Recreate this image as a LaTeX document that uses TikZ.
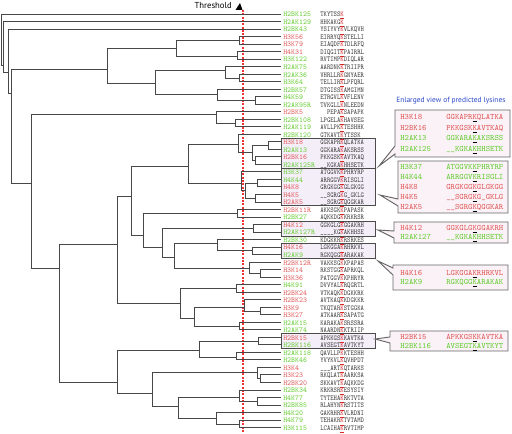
\documentclass[tikz,border=0pt]{standalone}
\usepackage{fontspec}
\usepackage{graphicx}
\newfontfamily\ptsans{PT Sans}
\definecolor{lg}{RGB}{102,204,51}
\definecolor{lr}{RGB}{226,90,90}
\definecolor{kred}{RGB}{215,40,40}
\definecolor{seqc}{RGB}{60,60,60}
\definecolor{bxfill}{RGB}{244,238,249}
\definecolor{cofill}{RGB}{250,242,247}
\definecolor{ttlc}{RGB}{40,70,200}
\definecolor{thrc}{RGB}{238,50,50}
\newcommand\sqK[2]{\scalebox{0.85}[1]{\textcolor{seqc}{#1}\textcolor{kred}{\underline{K}}\textcolor{seqc}{#2}}}
\newcommand\cK[2]{#1\makebox[0pt][l]{\textcolor{black}{\rule[-1.8pt]{0.525em}{0.7pt}}}K#2}
\tikzset{
  tree/.style={draw=black!72, line width=0.7pt},
  lab/.style={anchor=mid west, inner sep=0pt, font=\fontsize{5.6}{6}\selectfont\ttfamily},
  bx/.style={draw=black!70, fill=bxfill, line width=0.7pt},
  co/.style={draw=black!60, fill=cofill, line width=0.7pt},
  clab/.style={anchor=mid west, inner sep=0pt, font=\fontsize{6.2}{7}\selectfont\ttfamily},
  thr/.style={draw=thrc, line width=0.85pt, dash pattern=on 1.5pt off 1pt},
}
\begin{document}
\begin{tikzpicture}[x=0.75pt, y=-0.75pt]
\useasboundingbox (0,0) rectangle (512,434);
% boxes around clusters
\draw[bx] (281,138) rectangle (375,168.2);
\draw[bx] (281,168.2) rectangle (375,205.8);
\draw[bx] (281,221) rectangle (375,236);
\draw[bx] (281,243.3) rectangle (375,258.5);
\draw[bx] (281,333.5) rectangle (375,348.7);
% threshold
\draw[thr] (243,10) -- (243,432);
\node[anchor=mid east, inner sep=0pt, font=\ptsans\fontsize{6.5}{7}\selectfont] (thrlab) at (232,5.5) {Threshold};
\fill (235.5,10) -- (242.5,10) -- (240,3) -- cycle;
% leaves
\foreach \i/\nm/\cl/\pa/\pb in {
1/H2BK125/lg/TKYTSS/{},
2/H2AK129/lg/HHKAKG/{},
3/H2BK43/lg/YSIYVY/VLKQVH,
4/H3K56/lr/EIRRYQ/STELLI,
5/H3K79/lr/EIAQDF/TDLRFQ,
6/H4K31/lr/DIQGIT/PAIRRL,
7/H3K122/lg/RVTIMP/DIQLAR,
8/H2AK75/lg/AARDNK/TRIIPR,
9/H2AK36/lg/VHRLLR/GNYAER,
10/H3K64/lg/TELLIR/LPFQRL,
11/H2BK57/lg/DTGISS/AMGIMN,
12/H4K59/lg/ETRGVL/VFLENV,
13/H2AK95R/lg/TVKGLL/NLEEDN,
14/H2BK5/lr/{~~PEPA}/SAPAPK,
15/H2BK108/lg/LPGELA/HAVSEG,
16/H2AK119/lg/AVLLPK/TESHHK,
17/H2BK120/lg/GTKAVT/YTSSK,
18/H3K18/lr/GGKAPR/QLATKA,
19/H2AK13/lg/GGKARA/AKSRSS,
20/H2BK16/lr/PKKGSK/AVTKAQ,
21/H2AK125R/lg/{\_\_KGKA}/HHSETK,
22/H3K37/lg/ATGGVK/PHRYRP,
23/H4K44/lg/ARRGGV/RISGLI,
24/H4K8/lr/GRGKGG/GLGKGG,
25/H4K5/lr/{\_\_SGRG}/{G\_GKLG},
26/H2AK5/lr/{\_\_SGRG}/QGGKAR,
27/H2BK11R/lr/AKKSGK/PAPASK,
28/H2BK27/lg/AQKKDG/KRKRSR,
29/H4K12/lr/GGKGLG/GGAKRH,
30/H2AK127R/lg/{\_\_\_\_KG}/AKHHSE,
31/H2BK30/lg/KDGKKR/RSRKES,
32/H4K16/lr/LGKGGA/RHRKVL,
33/H2AK9/lg/RGKQGG/ARAKAK,
34/H2BK12R/lr/VAKKSG/KPAPAS,
35/H3K14/lr/RKSTGG/APRKQL,
36/H3K36/lr/PATGGV/KPHRYR,
37/H4K91/lg/DVVYAL/RQGRTL,
38/H2BK24/lr/VTKAQK/DGKKRK,
39/H2BK23/lr/AVTKAQ/KDGKKR,
40/H3K9/lr/TKQTAR/STGGKA,
41/H3K27/lr/ATKAAR/SAPATG,
42/H2AK15/lg/KARAKA/SRSSRA,
43/H2AK74/lg/NAARDN/KTRIIP,
44/H2BK15/lr/APKKGS/KAVTKA,
45/H2BK116/lg/AVSEGT/AVTKYT,
46/H2AK118/lg/QAVLLP/KTESHH,
47/H2BK46/lg/YVYKVL/QVHPDT,
48/H3K4/lr/{\_\_\_ART}/QTARKS,
49/H3K23/lr/RKQLAT/AARKSA,
50/H2BK20/lr/SKKAVT/AQKKDG,
51/H2BK34/lg/KRKRSR/ESYSIY,
52/H4K77/lg/TYTEHA/RKTVTA,
53/H2BK85/lg/RLAHYN/RSTITS,
54/H4K20/lg/GAKRHR/VLRDNI,
55/H4K79/lg/TEHAKR/TVTAMD,
56/H3K115/lg/LCAIHA/RVTIMP}{
  \pgfmathsetmacro\yy{14+7.52*(\i-1)}
  \coordinate (c\i) at (281,\yy);
  \node[lab, text=\cl] (t\i) at (283,\yy) {\nm};
  \node[lab] (s\i) at (320,\yy) {\sqK{\pa}{\pb}};
}
% internal nodes of the dendrogram
\foreach \n/\x/\y in {root/1/40, B/3.3/65, C/8.3/72, D/11.7/93,
 E/107/69, E1/176/48, n45/239/40, n67/237/56, E2/155/83, n8/225/70, n910/239/78,
 n11/217/94, n1213/255/100.5, F/31/183, F1/216/114, n1516/235/123,
 F2/59/268, G/117/244, G1/131/196, G1a/188/166, n17/238/144, b1/252/152,
 n1819/268/145.6, n2021/255/160.6, n22/241/183, n2326/245/190.7, n2324/257/183.2,
 n2526/255/198.3, G1b/143/235, n2728/237/213, G1b2/162/247, b3/253/228.3,
 G1bb/174/257, n31/217/243, b4/252/250.9, n34/249/268, n3536/260/273.5,
 G2/180/303, n3738/236/288, G2b/194/318, n39/244/307, n4041/260/311, n4243/239/326,
 H/117/382, H1/199/350, b5/258/341.1, n4647/236/357, H2/152/393, n48/257/372,
 n4950/260/378.7, H2b/178/406, n51/239/397, n5253/257/401.3, H2b2/216/418, n5556/239/424}
 {\coordinate (\n) at (\x,\y);}
% connectors
\foreach \p/\c in {root/c1, root/B, B/c2, B/C, C/c3, C/D, D/E, D/F,
 E/E1, E/E2, E1/n45, E1/n67, n45/c4, n45/c5, n67/c6, n67/c7,
 E2/n8, E2/n11, n8/c8, n8/n910, n910/c9, n910/c10, n11/c11, n11/n1213, n1213/c12, n1213/c13,
 F/F1, F/F2, F1/c14, F1/n1516, n1516/c15, n1516/c16,
 F2/G, F2/H, G/G1, G/G2, G1/G1a, G1/G1b, G1a/n17, G1a/n22, n17/c17, n17/b1,
 b1/n1819, b1/n2021, n1819/c18, n1819/c19, n2021/c20, n2021/c21,
 n22/c22, n22/n2326, n2326/n2324, n2326/n2526, n2324/c23, n2324/c24, n2526/c25, n2526/c26,
 G1b/n2728, G1b/G1b2, n2728/c27, n2728/c28, G1b2/b3, G1b2/G1bb, b3/c29, b3/c30,
 G1bb/n31, G1bb/n34, n31/c31, n31/b4, b4/c32, b4/c33, n34/c34, n34/n3536, n3536/c35, n3536/c36,
 G2/n3738, G2/G2b, n3738/c37, n3738/c38, G2b/n39, G2b/n4243, n39/c39, n39/n4041,
 n4041/c40, n4041/c41, n4243/c42, n4243/c43,
 H/H1, H/H2, H1/b5, H1/n4647, b5/c44, b5/c45, n4647/c46, n4647/c47,
 H2/n48, H2/H2b, n48/c48, n48/n4950, n4950/c49, n4950/c50, H2b/n51, H2b/H2b2,
 n51/c51, n51/n5253, n5253/c52, n5253/c53, H2b2/c54, H2b2/n5556, n5556/c55, n5556/c56}
 {\draw[tree] (\p) |- (\c);}
% enlarged view
\node[anchor=mid west, inner sep=0pt, font=\ptsans\fontsize{5.6}{7}\selectfont, text=ttlc] (ttl) at (396,100) {Enlarged view of predicted lysines};
\foreach \k/\xa/\ya/\xb/\yb/\tx/\ty/\ba/\bb in {
 1/395/110/510/157/379/166/146/154,
 2/398/161/508/213/380/195/199/206,
 3/394/222/508/243/378/230/231/238,
 4/393/265/508/290/378/261/268/275,
 5/390/331/508/351/375/339/337/343}{
 \coordinate (tip\k) at (\tx,\ty);
 \filldraw[co] (\xa,\ba) -- (\xa,\ya) -- (\xb,\ya) -- (\xb,\yb) -- (\xa,\yb) -- (\xa,\bb) -- (tip\k) -- cycle;
}
\foreach \yy/\nm/\cl/\pa/\pb in {
117/H3K18/lr/GGKAPR/QLATKA,
127.5/H2BK16/lr/PKKGSK/AVTKAQ,
138/H2AK13/lg/GGKARA/AKSRSS,
148.5/H2AK125/lg/{\_\_KGKA}/HHSETK,
167/H3K37/lg/ATGGVK/PHRYRP,
177/H4K44/lg/ARRGGV/RISGLI,
187/H4K8/lr/GRGKGG/GLGKGG,
197/H4K5/lr/{\_\_SGRG}/{G\_GKLG},
207/H2AK5/lr/{\_\_SGRG}/QGGKAR,
227.5/H4K12/lr/GGKGLG/GGAKRH,
237/H2AK127/lg/{\_\_KGKA}/HHSETK,
273/H4K16/lr/LGKGGA/RHRKVL,
282/H2AK9/lg/RGKQGG/ARAKAK,
337/H2BK15/lr/APKKGS/KAVTKA,
345.5/H2BK116/lg/AVSEGT/AVTKYT}{
 \node[clab, text=\cl] at (400,\yy) {\nm};
 \node[clab, text=\cl] at (446,\yy) {\cK{\pa}{\pb}};
}
\end{tikzpicture}
\end{document}
